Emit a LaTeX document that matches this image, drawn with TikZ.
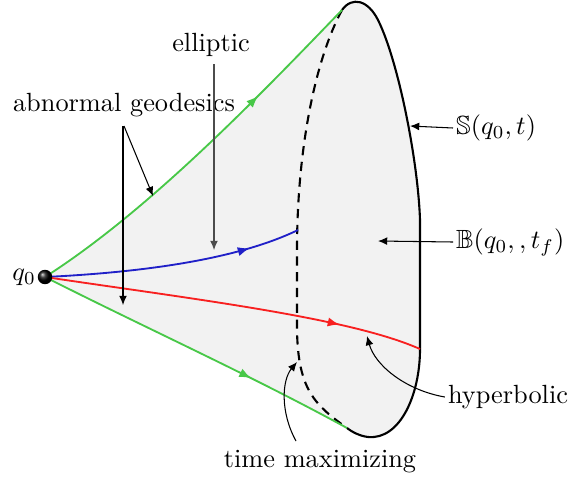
\documentclass[tikz,border=0pt]{standalone}
\usepackage{amssymb}
\usetikzlibrary{arrows.meta,decorations.markings,shadings}
\definecolor{geogreen}{HTML}{48C848}
\definecolor{geoblue}{HTML}{2020C8}
\definecolor{geored}{HTML}{F82020}

\begin{document}
\begin{tikzpicture}[
    x=0.38pt, y=-0.38pt,
    lbl/.style={inner sep=1pt},
    p/.style={-{Latex[length=3.5pt,width=3pt]}, black},
    geo/.style={line width=0.7pt, postaction={decorate},
      decoration={markings, mark=at position #1 with {\arrow{Latex[length=4.5pt,width=3.5pt]}}}},
    front/.style={thick, black},
    cut/.style={thick, black, dash pattern=on 3.5pt off 2.5pt},
]
  \useasboundingbox (0,0) rectangle (571,481);
  % points
  \coordinate (top) at (342,10);
  \coordinate (bot) at (347,428);
  \coordinate (rmid) at (420,349);
  % reachable set
  \fill[black!5] (45,277) .. controls (150,210) and (260,95) .. (top)
    .. controls (352,-4) and (368,0) .. (378,20)
    .. controls (398,60) and (418,160) .. (420,220) -- (rmid)
    .. controls (420,395) and (400,440) .. (368,437)
    .. controls (360,436) and (352,432) .. (bot)
    .. controls (250,375) and (150,330) .. (45,277) -- cycle;
  \draw[front] (top) .. controls (352,-4) and (368,0) .. (378,20)
    .. controls (398,60) and (418,160) .. (420,220) -- (rmid)
    .. controls (420,395) and (400,440) .. (368,437)
    .. controls (360,436) and (352,432) .. (bot);
  \draw[cut] (top) .. controls (315,60) and (297,150) .. (297,250)
    -- (297,330) .. controls (298,390) and (315,405) .. (bot);
  % geodesics
  \draw[geo=0.7, geogreen] (45,277) .. controls (150,210) and (260,95) .. (top);
  \draw[geo=0.68, geogreen] (45,277) .. controls (150,330) and (250,375) .. (bot);
  \draw[geo=0.8, geoblue] (45,277) .. controls (150,272) and (240,258) .. (298,230);
  \draw[geo=0.78, geored] (45,277) .. controls (200,300) and (350,318) .. (rmid);
  \node[circle, inner sep=0pt, minimum size=5.5pt, ball color=black] (q0) at (45,277) {};
  % labels
  \node[lbl, anchor=east] (q0lbl) at (39,277) {$q_0$};
  \node[lbl] (ell) at (211,45) {elliptic};
  \node[lbl] (abn) at (124,105) {abnormal geodesics};
  \node[lbl, anchor=west] (sph) at (453,128) {$\mathbb{S}(q_0,t)$};
  \node[lbl, anchor=west] (ball) at (453,242) {$\mathbb{B}(q_0,,t_f)$};
  \node[lbl] (hyp) at (508,397) {hyperbolic};
  \node[lbl] (tmax) at (320,462) {time maximizing};
  % pointers
  \draw[p, black!70] (214,64) -- (214,250);
  \draw[p] (124,126) -- (153,196);
  \draw[p] (123,126) -- (123,305);
  \draw[p] (sph.west) -- (410,126);
  \draw[p] (ball.west) -- (378,241);
  \draw[p] (hyp.west) .. controls (405,390) and (375,365) .. (367,336);
  \draw[p] (296,441) .. controls (280,412) and (282,380) .. (297,362);
\end{tikzpicture}
\end{document}
